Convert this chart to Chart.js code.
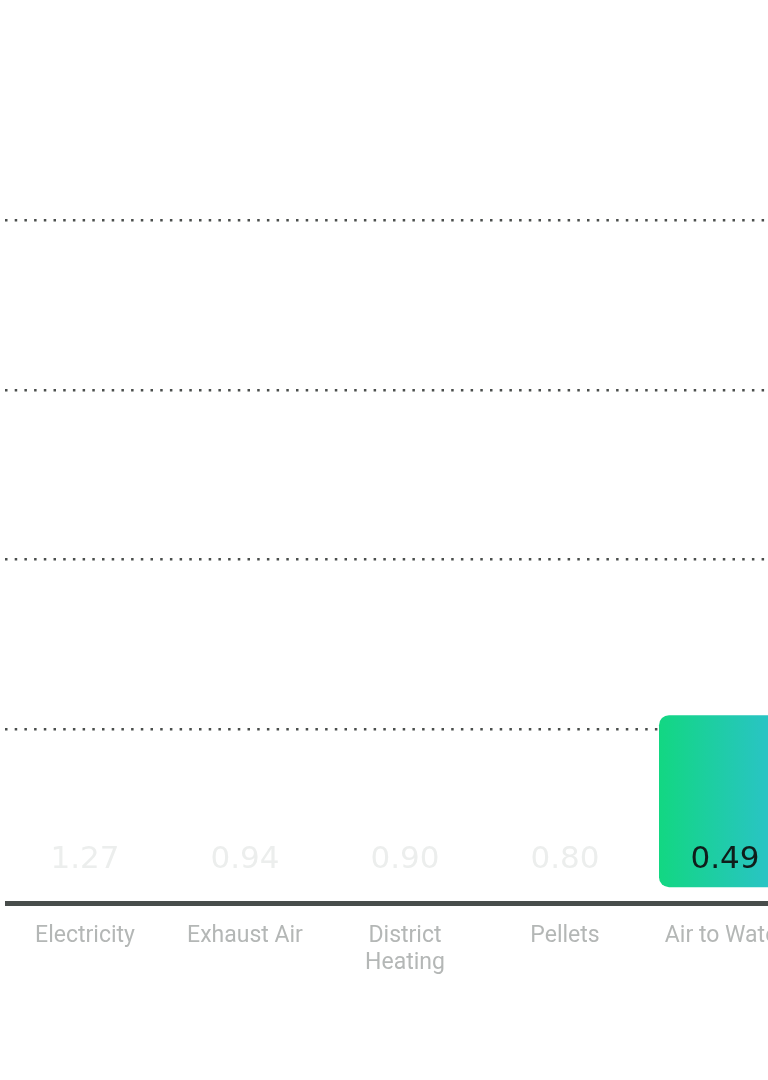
<!DOCTYPE html>
<html>
<head>
<meta charset="utf-8">
<script src="https://cdn.jsdelivr.net/npm/chart.js@4"></script>
<style>
  html, body { margin: 0; padding: 0; background: #fff; overflow: hidden; }
  .chart-container { position: absolute; left: 5px; top: 0; width: 800px; height: 1080px; }
</style>
</head>
<body>
<div class="chart-container"><canvas id="myChart"></canvas></div>
<script>
const categories = ["Electricity", "Exhaust Air", ["District", "Heating"], "Pellets", "Air to Water"];
const costs = [1.27, 0.94, 0.90, 0.80, 0.49];
const highlightIndex = 4;
// dotted guide lines (no labels shown on the y axis)
const gridTicks = [0.45, 0.934, 1.416, 1.9];

const barColor = (context) => {
  if (context.dataIndex !== highlightIndex) return "rgba(255,255,255,0)";
  const chart = context.chart;
  if (!chart.chartArea) return "#14d683";
  const xScale = chart.scales.x;
  const center = xScale.getPixelForValue(context.dataIndex);
  const half = (xScale.width / categories.length) * 0.825 / 2;
  const g = chart.ctx.createLinearGradient(center - half, 0, center + half, 0);
  g.addColorStop(0, "#12d782");
  g.addColorStop(1, "#2ec0d2");
  return g;
};

const valueLabels = {
  id: "valueLabels",
  afterDatasetsDraw(chart) {
    const ctx = chart.ctx;
    const meta = chart.getDatasetMeta(0);
    ctx.save();
    ctx.font = "31px 'DejaVu Sans'";
    ctx.textAlign = "center";
    ctx.textBaseline = "alphabetic";
    meta.data.forEach((bar, i) => {
      ctx.fillStyle = i === highlightIndex ? "#0f1d1b" : "#eceeed";
      ctx.fillText(costs[i].toFixed(2), bar.x, bar.base - 19);
    });
    ctx.restore();
  },
};

const ctx = document.getElementById("myChart").getContext("2d");
new Chart(ctx, {
  type: "bar",
  data: {
    labels: categories,
    datasets: [
      {
        data: costs,
        backgroundColor: barColor,
        borderRadius: 10,
        borderSkipped: false,
        categoryPercentage: 1,
        barPercentage: 0.825,
      },
    ],
  },
  options: {
    responsive: true,
    maintainAspectRatio: false,
    animation: false,
    layout: { padding: 0 },
    plugins: {
      legend: { display: false },
      tooltip: { enabled: false },
    },
    scales: {
      x: {
        grid: { display: false, drawTicks: false },
        border: { display: true, color: "#484d4b", width: 5 },
        ticks: {
          color: "#b4b7b6",
          font: { family: "Roboto", size: 23 },
          padding: 19,
          maxRotation: 0,
          autoSkip: false,
        },
        afterFit: (scale) => {
          scale.height = 177;
        },
      },
      y: {
        min: -0.045,
        max: 2.527,
        ticks: { display: false },
        border: { display: false, dash: [2.5, 7.2] },
        grid: { color: "#4a4e4c", lineWidth: 2.5, drawTicks: false },
        afterBuildTicks: (scale) => {
          scale.ticks = gridTicks.map((v) => ({ value: v }));
        },
        afterFit: (scale) => {
          scale.width = 0;
        },
      },
    },
  },
  plugins: [valueLabels],
});
</script>
</body>
</html>
